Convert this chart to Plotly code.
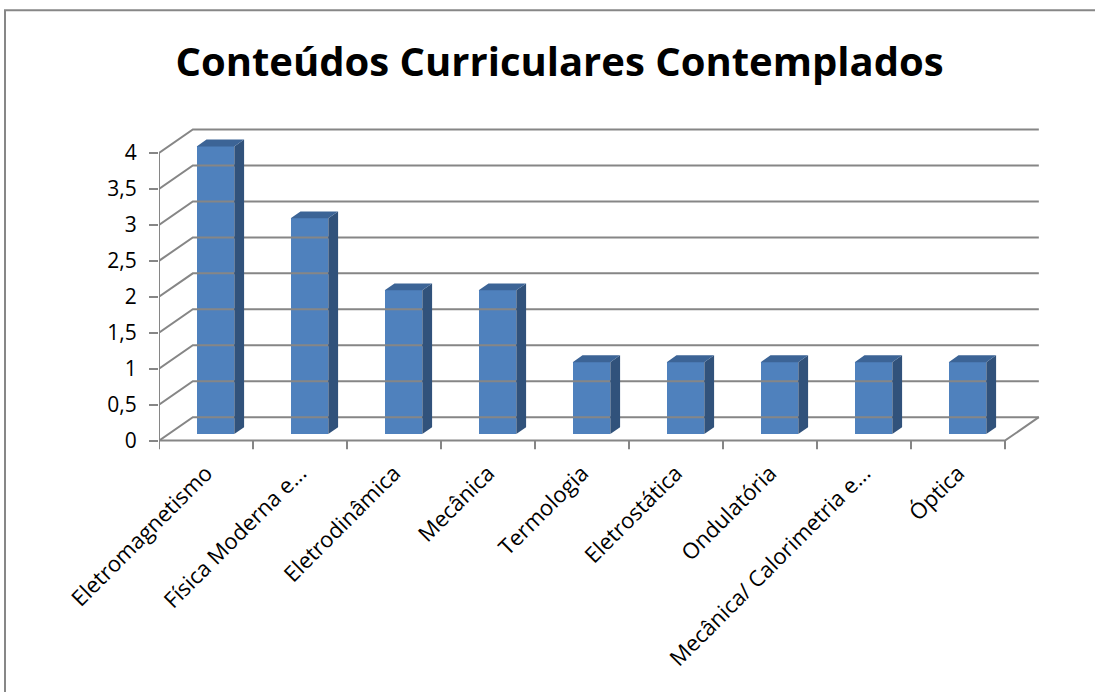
import plotly.graph_objects as go

# ---- data ----
categories = ["Eletromagnetismo", "Física Moderna e...", "Eletrodinâmica", "Mecânica",
              "Termologia", "Eletrostática", "Ondulatória", "Mecânica/ Calorimetria e...", "Óptica"]
values = [4, 3, 2, 2, 1, 1, 1, 1, 1]
y_ticks = [0, 0.5, 1, 1.5, 2, 2.5, 3, 3.5, 4]
y_ticktext = ["0", "0,5", "1", "1,5", "2", "2,5", "3", "3,5", "4"]
title = "Conteúdos Curriculares Contemplados"

# ---- pseudo-3D geometry (in axis units) ----
DX, DY = 0.36, 0.326     # depth offset of back wall
F0, F1 = 0.28, 0.57      # bar depth (front / back fraction)
BW = 0.40                # bar width
GRID = "#868686"
FRONT, SIDE, TOP = "#4F81BD", "#31527B", "#3C6496"

n = len(categories)
xs = list(range(n))
x_left, x_right = -0.5, n - 0.5

fig = go.Figure()

# back gridlines + left wall diagonals
gx, gy = [], []
for t in y_ticks:
    gx += [x_left, x_left + DX, x_right + DX, None]
    gy += [t, t + DY, t + DY, None]
# front value axis line (0 .. max tick)
gx += [x_left, x_left, None]
gy += [y_ticks[0], y_ticks[-1], None]
# floor front edge and right diagonal
gx += [x_left, x_right, x_right + DX, None]
gy += [0, 0, DY, None]
# category boundary ticks
for k in range(n + 1):
    b = x_left + k
    gx += [b, b, None]
    gy += [0, -0.12, None]
fig.add_trace(go.Scatter(x=gx, y=gy, mode="lines", line=dict(color=GRID, width=2),
                         hoverinfo="skip", showlegend=False))

# side faces
sx, sy = [], []
for i, v in zip(xs, values):
    xr = i + BW / 2
    sx += [xr + F0 * DX, xr + F1 * DX, xr + F1 * DX, xr + F0 * DX, xr + F0 * DX, None]
    sy += [F0 * DY, F1 * DY, v + F1 * DY, v + F0 * DY, F0 * DY, None]
fig.add_trace(go.Scatter(x=sx, y=sy, mode="lines", fill="toself", fillcolor=SIDE,
                         line=dict(width=0, color=SIDE), hoverinfo="skip", showlegend=False))
# top faces
tx, ty = [], []
for i, v in zip(xs, values):
    xl, xr = i - BW / 2, i + BW / 2
    tx += [xl + F0 * DX, xr + F0 * DX, xr + F1 * DX, xl + F1 * DX, xl + F0 * DX, None]
    ty += [v + F0 * DY, v + F0 * DY, v + F1 * DY, v + F1 * DY, v + F0 * DY, None]
fig.add_trace(go.Scatter(x=tx, y=ty, mode="lines", fill="toself", fillcolor=TOP,
                         line=dict(width=0, color=TOP), hoverinfo="skip", showlegend=False))

# front faces
fig.add_trace(go.Bar(x=[i + F0 * DX for i in xs], y=values, base=F0 * DY, width=BW,
                     marker=dict(color=FRONT, line=dict(width=0)), showlegend=False,
                     hovertext=categories))

W, H = 1095, 692
L, R, T, B = 159, 50, 117, 236.6
plot_w = W - L - R
xr_max = x_left + plot_w / 94.0

fig.update_layout(
    width=W, height=H,
    margin=dict(l=L, r=R, t=T, b=B, autoexpand=False),
    paper_bgcolor="white", plot_bgcolor="white",
    title=dict(text="<b>" + title + "</b>", x=0.511, xanchor="center", y=1 - 62 / H, yanchor="middle",
               xref="container", yref="container",
               font=dict(family="Open Sans, sans-serif", size=40, color="black")),
    font=dict(family="Open Sans, sans-serif", color="black"),
    xaxis=dict(range=[x_left, xr_max], tickvals=xs, ticktext=categories, tickangle=-45,
               showgrid=False, zeroline=False, showline=False, ticks="",
               tickfont=dict(size=22, color="black"), fixedrange=True),
    yaxis=dict(range=[-0.2, 4.5], tickvals=y_ticks, ticktext=y_ticktext, showgrid=False,
               zeroline=False, showline=False, ticks="outside",
               ticklen=9, tickcolor=GRID, tickwidth=2, ticklabelstandoff=8,
               tickfont=dict(size=21, color="black"), fixedrange=True),
    bargap=0,
)

# outer chart frame
py0 = 455.4
ph = py0 - T
fig.add_shape(type="rect", xref="paper", yref="paper",
              x0=(5 - L) / plot_w, x1=(1110 - L) / plot_w,
              y0=(py0 - 710) / ph, y1=1 + (T - 10) / ph,
              line=dict(color="#878787", width=2), fillcolor="rgba(0,0,0,0)", layer="below")

fig.write_html("out.html", config={"displayModeBar": False},
               post_script="document.body.style.margin='0';document.body.style.overflow='hidden';")
